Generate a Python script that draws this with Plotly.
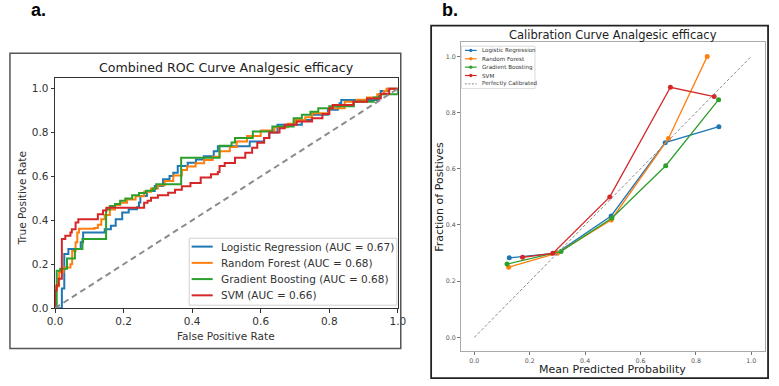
import plotly.graph_objects as go

W, H = 779, 386

# ---------------- ROC data (step corners: x where vertical jump occurs, y after jump)
lr_fpr = [0, 0.02, 0.027, 0.039, 0.075, 0.082, 0.145, 0.163, 0.177, 0.196, 0.215, 0.239, 0.245, 0.249, 0.268,
          0.291, 0.315, 0.334, 0.345, 0.358, 0.387, 0.411, 0.434, 0.463, 0.475, 0.568, 0.61, 0.625, 0.649, 0.72,
          0.749, 0.796, 0.825, 0.83, 0.835, 0.945, 0.95, 0.972, 1.0]
lr_tpr = [0, 0.09, 0.247, 0.27, 0.30, 0.345, 0.36, 0.375, 0.405, 0.436, 0.451, 0.46, 0.481, 0.511, 0.534,
          0.557, 0.587, 0.602, 0.617, 0.648, 0.663, 0.677, 0.692, 0.715, 0.738, 0.76, 0.775, 0.80, 0.836, 0.858,
          0.881, 0.904, 0.918, 0.934, 0.949, 0.975, 0.99, 1.0, 1.0]

rf_fpr = [0, 0, 0.012, 0.025, 0.045, 0.05, 0.06, 0.065, 0.07, 0.115, 0.125, 0.135, 0.145, 0.16, 0.175, 0.19,
          0.21, 0.235, 0.26, 0.28, 0.30, 0.32, 0.345, 0.37, 0.385, 0.41, 0.435, 0.46, 0.48, 0.51, 0.53, 0.56,
          0.60, 0.64, 0.68, 0.70, 0.73, 0.75, 0.80, 0.845, 0.88, 0.91, 0.94, 0.96, 0.967, 1.0]
rf_tpr = [0, 0.10, 0.165, 0.185, 0.20, 0.26, 0.30, 0.345, 0.362, 0.365, 0.38, 0.405, 0.425, 0.45, 0.47, 0.48,
          0.495, 0.51, 0.53, 0.545, 0.56, 0.58, 0.605, 0.63, 0.645, 0.66, 0.675, 0.69, 0.715, 0.735, 0.76, 0.785,
          0.81, 0.825, 0.84, 0.858, 0.87, 0.888, 0.911, 0.941, 0.95, 0.96, 0.975, 0.99, 1.0, 1.0]

gb_fpr = [0, 0.005, 0.015, 0.035, 0.058, 0.08, 0.149, 0.16, 0.175, 0.19, 0.205, 0.225, 0.245, 0.265, 0.285,
          0.295, 0.368, 0.48, 0.515, 0.525, 0.577, 0.634, 0.696, 0.72, 0.745, 0.768, 0.80, 0.872, 0.93, 0.95, 1.0]
gb_tpr = [0, 0.17, 0.18, 0.226, 0.27, 0.315, 0.45, 0.465, 0.475, 0.49, 0.50, 0.515, 0.525, 0.535, 0.545,
          0.565, 0.685, 0.74, 0.755, 0.775, 0.805, 0.828, 0.866, 0.881, 0.895, 0.911, 0.92, 0.941, 0.96, 0.975, 1.0]

svm_fpr = [0, 0, 0.005, 0.0105, 0.02, 0.03, 0.045, 0.049, 0.06, 0.068, 0.125, 0.14, 0.15, 0.26, 0.27, 0.28,
           0.30, 0.33, 0.35, 0.37, 0.395, 0.425, 0.455, 0.475, 0.48, 0.495, 0.525, 0.555, 0.575, 0.59, 0.61,
           0.625, 0.655, 0.67, 0.705, 0.75, 0.78, 0.80, 0.81, 0.87, 0.91, 0.95, 0.975, 1.0]
svm_tpr = [0, 0.08, 0.104, 0.134, 0.315, 0.33, 0.345, 0.36, 0.39, 0.405, 0.428, 0.445, 0.458, 0.48, 0.49, 0.503,
           0.515, 0.526, 0.54, 0.556, 0.57, 0.595, 0.61, 0.62, 0.648, 0.662, 0.685, 0.708, 0.731, 0.754, 0.776,
           0.80, 0.82, 0.836, 0.851, 0.866, 0.885, 0.911, 0.926, 0.941, 0.955, 0.977, 1.0, 1.0]

roc_names = ["Logistic Regression (AUC = 0.67)", "Random Forest (AUC = 0.68)",
             "Gradient Boosting (AUC = 0.68)", "SVM (AUC = 0.66)"]

# ---------------- Calibration data
lr_prob = [0.126, 0.297, 0.494, 0.689, 0.883]
lr_frac = [0.283, 0.300, 0.432, 0.693, 0.750]
rf_prob = [0.124, 0.300, 0.494, 0.701, 0.841]
rf_frac = [0.250, 0.300, 0.418, 0.708, 1.000]
gb_prob = [0.118, 0.313, 0.497, 0.691, 0.882]
gb_frac = [0.261, 0.306, 0.425, 0.611, 0.846]
svm_prob = [0.174, 0.283, 0.489, 0.708, 0.866]
svm_frac = [0.285, 0.299, 0.500, 0.890, 0.857]
cal_names = ["Logistic Regression", "Random Forest", "Gradient Boosting", "SVM"]
ref_name = "Perfectly Calibrated"

diag = [0, 1]
ticks = [0.0, 0.2, 0.4, 0.6, 0.8, 1.0]
tick_text = ["0.0", "0.2", "0.4", "0.6", "0.8", "1.0"]

colors = ["#1f77b4", "#ff7f0e", "#2ca02c", "#d62728"]
FONT = "DejaVu Sans"


def px(x):
    return x / W


def py(y):
    return 1 - y / H


fig = go.Figure()

roc_sets = [(lr_fpr, lr_tpr), (rf_fpr, rf_tpr), (gb_fpr, gb_tpr), (svm_fpr, svm_tpr)]
for (fx, ty), name, c in zip(roc_sets, roc_names, colors):
    fig.add_trace(go.Scatter(x=fx, y=ty, mode="lines", name=name, showlegend=False,
                             line=dict(color=c, width=2, shape="hv"), xaxis="x", yaxis="y"))
fig.add_trace(go.Scatter(x=diag, y=diag, mode="lines", showlegend=False,
                         line=dict(color="#8c8c8c", width=2, dash="6px,4px"), xaxis="x", yaxis="y"))

cal_sets = [(lr_prob, lr_frac), (rf_prob, rf_frac), (gb_prob, gb_frac), (svm_prob, svm_frac)]
for (mx, fy), name, c in zip(cal_sets, cal_names, colors):
    fig.add_trace(go.Scatter(x=mx, y=fy, mode="lines+markers", name=name, showlegend=False,
                             line=dict(color=c, width=1.3), marker=dict(color=c, size=5),
                             xaxis="x2", yaxis="y2"))
fig.add_trace(go.Scatter(x=diag, y=diag, mode="lines", name=ref_name, showlegend=False,
                         line=dict(color="#8a8a8a", width=1, dash="3px,2px"),
                         xaxis="x2", yaxis="y2"))

axa = dict(showgrid=False, zeroline=False, showline=True, mirror=True, linecolor="#333", linewidth=1,
           ticks="outside", ticklen=3.5, tickwidth=1, tickcolor="#333", tickvals=ticks, ticktext=tick_text,
           tickfont=dict(family=FONT, size=10.5, color="#333"))
axb = dict(showgrid=False, zeroline=False, showline=True, mirror=True, linecolor="#aaa", linewidth=1,
           ticks="outside", ticklen=2.5, tickwidth=0.8, tickcolor="#777", tickvals=ticks, ticktext=tick_text,
           tickfont=dict(family=FONT, size=6.3, color="#555"))

fig.update_layout(
    width=W, height=H, margin=dict(l=0, r=0, t=0, b=0),
    paper_bgcolor="white", plot_bgcolor="white", showlegend=False,
    xaxis=dict(axa, domain=[px(48), px(398)], range=[0, 1], anchor="y"),
    yaxis=dict(axa, domain=[py(313), py(79)], range=[0, 1.05], anchor="x"),
    xaxis2=dict(axb, domain=[px(462), px(773)], range=[-0.05, 1.05], anchor="y2"),
    yaxis2=dict(axb, domain=[py(357), py(43)], range=[-0.05, 1.05], anchor="x2"),
)

ann = [
    dict(text="<b>a.</b>", x=px(21), y=py(-2), xanchor="left", yanchor="top",
         font=dict(family="Liberation Sans", size=18, color="black")),
    dict(text="<b>b.</b>", x=px(441), y=py(-2), xanchor="left", yanchor="top",
         font=dict(family="Liberation Sans", size=18, color="black")),
    dict(text="Combined ROC Curve Analgesic efficacy", x=px(223), y=py(69), xanchor="center", yanchor="middle",
         font=dict(family=FONT, size=12.6, color="#222")),
    dict(text="False Positive Rate", x=px(223), y=py(341), xanchor="center", yanchor="middle",
         font=dict(family=FONT, size=10.5, color="#333")),
    dict(text="True Positive Rate", x=px(14), y=py(201), xanchor="center", yanchor="middle", textangle=-90,
         font=dict(family=FONT, size=10.5, color="#333")),
    dict(text="Calibration Curve Analgesic efficacy", x=px(617.5), y=py(36), xanchor="center", yanchor="middle",
         font=dict(family=FONT, size=11.5, color="#222")),
    dict(text="Mean Predicted Probability", x=px(617.5), y=py(375), xanchor="center", yanchor="middle",
         font=dict(family=FONT, size=11, color="#222")),
    dict(text="Fraction of Positives", x=px(441), y=py(200), xanchor="center", yanchor="middle", textangle=-90,
         font=dict(family=FONT, size=11, color="#222")),
]

shapes = [
    dict(type="rect", xref="paper", yref="paper", x0=px(2), x1=px(401), y0=py(354), y1=py(54),
         line=dict(color="#555", width=1.5), layer="above"),
    dict(type="rect", xref="paper", yref="paper", x0=px(432), x1=px(776), y0=py(384), y1=py(26),
         line=dict(color="#222", width=1.8), layer="above"),
    # legend frames
    dict(type="rect", xref="paper", yref="paper", x0=px(185), x1=px(397), y0=py(310), y1=py(242),
         line=dict(color="#d0d0d0", width=1), fillcolor="rgba(255,255,255,0.85)", layer="above"),
    dict(type="rect", xref="paper", yref="paper", x0=px(463), x1=px(538), y0=py(90), y1=py(47),
         line=dict(color="#d0d0d0", width=0.8), fillcolor="rgba(255,255,255,0.85)", layer="above"),
]

# legend for panel a (keys follow the trace styles)
for i, (name, c) in enumerate(zip(roc_names, colors)):
    yy = 250.5 + i * 16.5
    shapes.append(dict(type="line", xref="paper", yref="paper", x0=px(187.5), x1=px(209), y0=py(yy), y1=py(yy),
                       line=dict(color=c, width=2), layer="above"))
    ann.append(dict(text=name, x=px(215.5), y=py(yy), xanchor="left", yanchor="middle",
                    font=dict(family=FONT, size=10.5, color="#333")))

# compact legend for panel b
leg_entries = list(zip(cal_names, colors)) + [(ref_name, "#8a8a8a")]
for i, (name, c) in enumerate(leg_entries):
    yy = 51.2 + i * 8.5
    is_ref = name == ref_name
    shapes.append(dict(type="line", xref="paper", yref="paper", x0=px(466.5), x1=px(478.5), y0=py(yy), y1=py(yy),
                       line=dict(color=c, width=1 if is_ref else 1.2, dash="2px,1.5px" if is_ref else "solid"),
                       layer="above"))
    if not is_ref:
        shapes.append(dict(type="circle", xref="paper", yref="paper", x0=px(470.8), x1=px(474.2),
                           y0=py(yy + 1.7), y1=py(yy - 1.7), fillcolor=c, line=dict(color=c, width=0),
                           layer="above"))
    ann.append(dict(text=name, x=px(481.5), y=py(yy), xanchor="left", yanchor="middle",
                    font=dict(family=FONT, size=5.6, color="#333")))

for a in ann:
    a.update(xref="paper", yref="paper", showarrow=False)
fig.update_layout(annotations=ann, shapes=shapes)

fig.write_html("out.html")
